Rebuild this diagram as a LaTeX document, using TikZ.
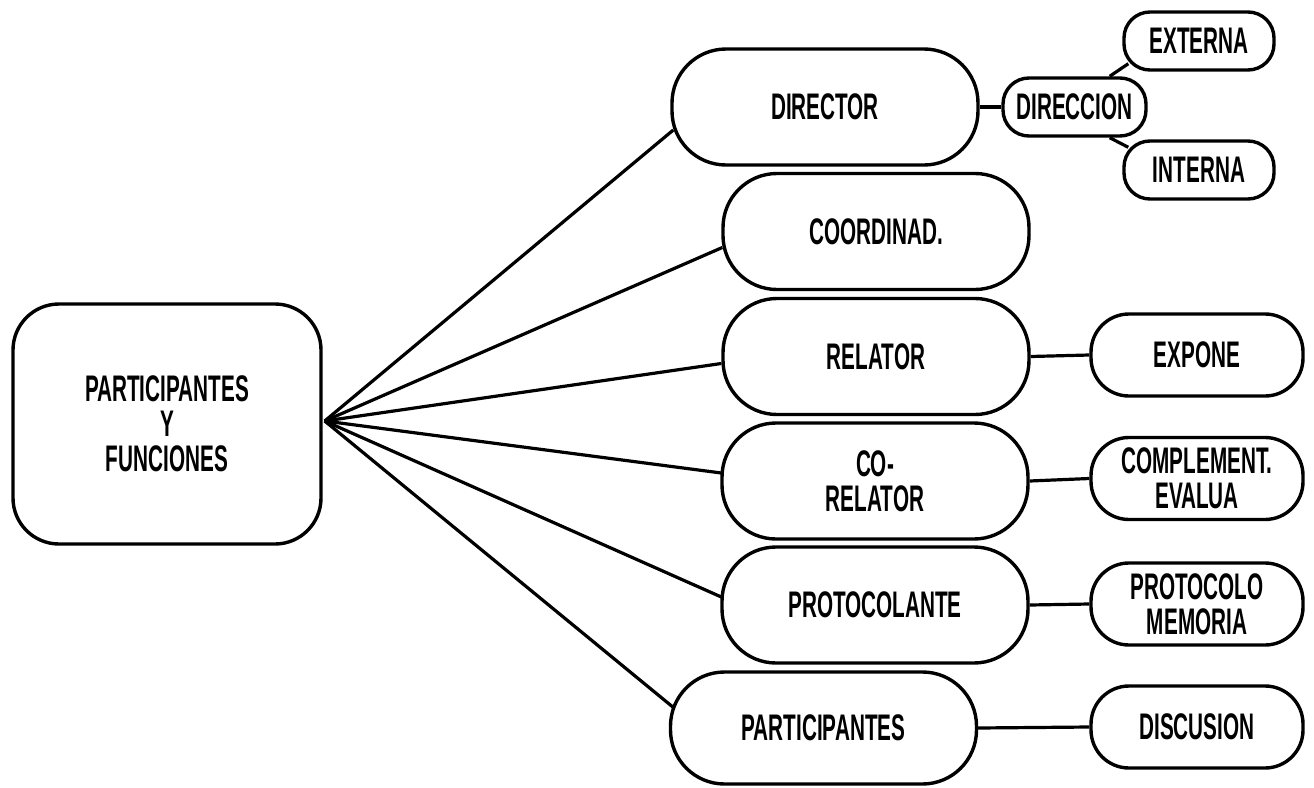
\documentclass[tikz,border=0pt]{standalone}
\usepackage{fontspec}
\newfontfamily\labfont[FakeStretch=0.56]{Liberation Sans}
\usetikzlibrary{calc}
\begin{document}
\begin{tikzpicture}[x=1pt,y=-1pt,
  lab/.style={font=\labfont\bfseries\fontsize{37}{35}\selectfont, align=center, inner sep=0pt},
  bigbox/.style={lab, draw, line width=3.4pt, rounded corners=54pt, minimum width=306pt, minimum height=116pt},
  sidebox/.style={lab, draw, line width=3.4pt, rounded corners=38pt, minimum width=212pt, minimum height=82pt},
  tinybox/.style={lab, draw, line width=3.4pt, rounded corners=26pt, minimum height=58pt},
  conn/.style={line width=3.2pt}]
\fill[white] (0,0) rectangle (1314,787);
\useasboundingbox (0,0) rectangle (1314,787);

\node[lab, draw, line width=3.4pt, rounded corners=46pt, minimum width=308pt, minimum height=240pt] (main) at (167,424) {PARTICIPANTES\\Y\\FUNCIONES};

\node[bigbox] (dir) at (825,107) {DIRECTOR};
\node[bigbox] (coord) at (876,231.5) {COORDINAD.};
\node[bigbox] (rel) at (876,356.5) {RELATOR};
\node[bigbox] (corel) at (875,481) {CO-\\RELATOR};
\node[bigbox] (proto) at (875,605) {PROTOCOLANTE};
\node[bigbox, minimum height=112pt] (part) at (823.5,728) {PARTICIPANTES};

\node[tinybox, minimum width=143pt] (direc) at (1074.5,107) {DIRECCION};
\node[tinybox, minimum width=150pt] (ext) at (1199,41) {EXTERNA};
\node[tinybox, minimum width=150pt] (int) at (1199,170) {INTERNA};

\node[sidebox] (expo) at (1197,355) {EXPONE};
\node[sidebox] (compl) at (1197,478.5) {COMPLEMENT.\\EVALUA};
\node[sidebox] (protm) at (1197,604) {PROTOCOLO\\MEMORIA};
\node[sidebox] (disc) at (1197,727) {DISCUSION};

\coordinate (hub) at ($(main.east)+(2,-3)$);
\draw[conn] (hub) -- ($(dir.west)+(3,23)$);
\draw[conn] (hub) -- ($(coord.west)+(1,16)$);
\draw[conn] (hub) -- ($(rel.west)+(0,7)$);
\draw[conn] (hub) -- ($(corel.west)+(1,-8)$);
\draw[conn] (hub) -- ($(proto.west)+(1,-8)$);
\draw[conn] (hub) -- ($(part.west)+(4,-21)$);

\draw[conn] (dir.east) -- (direc.west);
\draw[conn] ($(direc.north east)+(-38,0)$) -- ($(ext.south west)+(6,-8)$);
\draw[conn] ($(direc.south east)+(-38,0)$) -- ($(int.north west)+(6,8)$);

\draw[conn] (rel.east) -- (expo.west);
\draw[conn] (corel.east) -- (compl.west);
\draw[conn] (proto.east) -- (protm.west);
\draw[conn] (part.east) -- (disc.west);
\end{tikzpicture}
\end{document}
